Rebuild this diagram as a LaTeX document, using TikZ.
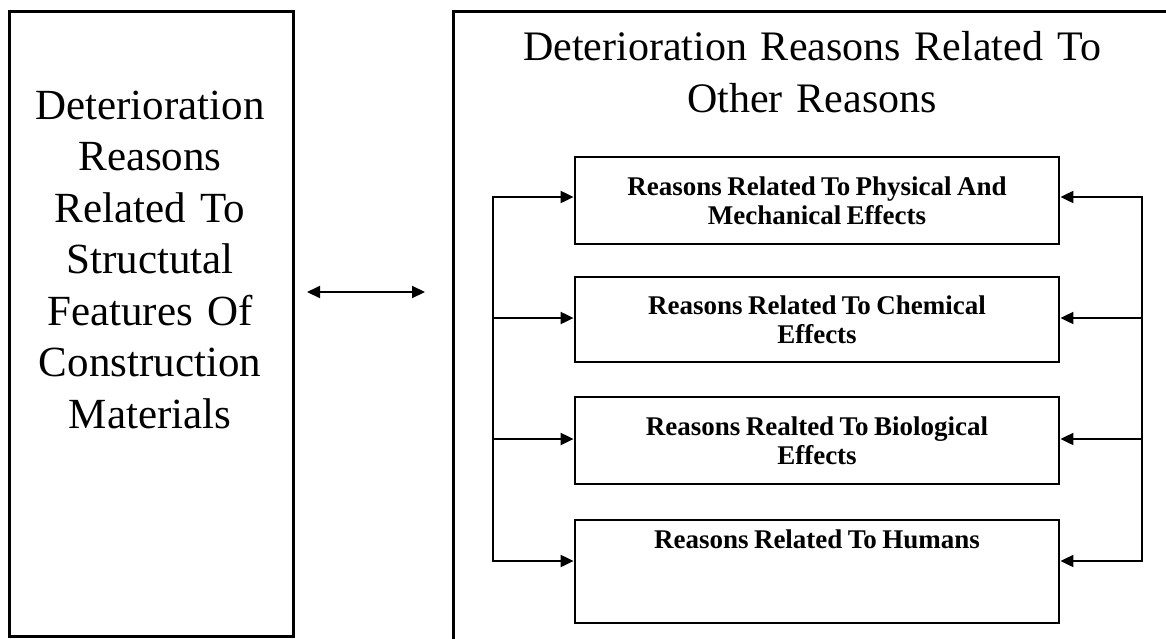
\documentclass[tikz,border=0pt]{standalone}
\usepackage{fontspec}
\setmainfont{Liberation Serif}
\usetikzlibrary{arrows.meta}

% tighter interword spacing for the labels
\newcommand{\tightwords}[1]{\spaceskip=#1em plus 0.05em\relax}

\tikzset{
  frame/.style={draw=black, line width=2.6pt, fill=none, inner sep=0pt},
  itembox/.style={draw=black, line width=2.8pt, minimum width=484pt, inner sep=0pt,
    align=center, font=\bfseries\fontsize{27}{29}\selectfont\tightwords{0.2}},
  bigtext/.style={align=center, inner sep=0pt, font=\fontsize{43}{51.5}\selectfont\tightwords{0.15}},
  titletext/.style={align=center, inner sep=0pt, font=\fontsize{42}{52}\selectfont\tightwords{0.15}},
  smalltext/.style={align=center, inner sep=0pt, font=\bfseries\fontsize{27}{29}\selectfont\tightwords{0.2}},
  feed/.style={line width=2pt, -{Triangle[length=13pt,width=12pt]}},
  both/.style={line width=2pt, {Triangle[length=13pt,width=12pt]}-{Triangle[length=13pt,width=12pt]}}
}

\begin{document}
\begin{tikzpicture}[x=1pt,y=-1pt]
  \useasboundingbox[fill=white] (0,0) rectangle (1166,638);

  % left frame: structural features
  \node[frame, anchor=north west, minimum width=284pt, minimum height=625pt] (L) at (8,10) {};
  \node[bigtext, anchor=base, text width=280pt] (Ltext) at (150,119)
    {Deterioration\\Reasons\\Related To\\Structutal\\Features Of\\Construction\\Materials};

  % right frame: other reasons (runs past the page edge)
  \node[frame, anchor=north west, minimum width=730pt, minimum height=650pt] (R) at (452,10) {};
  \node[titletext, anchor=base, text width=680pt] (Rtext) at (812,60)
    {Deterioration Reasons Related To\\Other Reasons};

  % link between the two frames
  \coordinate (a1) at (307,292);
  \coordinate (a2) at (425,292);
  \draw[both] (a1) -- (a2);

  % the four groups of reasons
  \node[itembox, minimum height=87pt] (b1) at (817,200.5)
    {Reasons Related To Physical And\\Mechanical Effects};
  \node[itembox, minimum height=85pt] (b2) at (817,319.5)
    {Reasons Related To Chemical\\Effects};
  \node[itembox, minimum height=87pt] (b3) at (817,440.5)
    {Reasons Realted To Biological\\Effects};
  \node[itembox, minimum height=103pt] (b4) at (817,571.5) {};
  \node[smalltext, anchor=base] (t4) at (817,548) {Reasons Related To Humans};

  % feed lines on both sides
  \coordinate (l1) at (493,197);
  \coordinate (l2) at (493,318);
  \coordinate (l3) at (493,439);
  \coordinate (l4) at (493,561);
  \coordinate (r1) at (1142,197);
  \coordinate (r2) at (1142,318);
  \coordinate (r3) at (1142,439);
  \coordinate (r4) at (1142,561);

  \draw[feed] (l2) -- (l1) -- (l1 -| b1.west);
  \draw[feed] (l2) -- (l4) -- (l4 -| b4.west);
  \draw[feed] (l2) -- (l2 -| b2.west);
  \draw[feed] (l3) -- (l3 -| b3.west);

  \draw[feed] (r2) -- (r1) -- (r1 -| b1.east);
  \draw[feed] (r2) -- (r4) -- (r4 -| b4.east);
  \draw[feed] (r2) -- (r2 -| b2.east);
  \draw[feed] (r3) -- (r3 -| b3.east);
\end{tikzpicture}
\end{document}
